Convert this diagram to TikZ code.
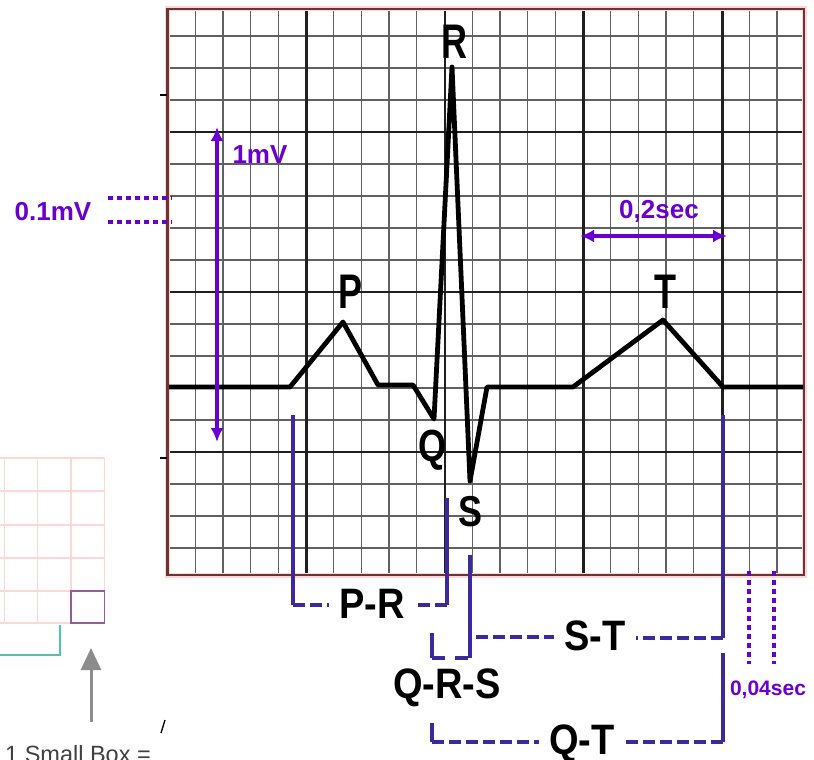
\documentclass[tikz,border=0pt]{standalone}
\usepackage{fontspec}
\setmainfont{Liberation Sans}
\usepackage{graphicx}
\usetikzlibrary{arrows.meta}
\definecolor{purp}{RGB}{106,0,208}
\definecolor{brk}{RGB}{62,40,158}
\definecolor{framec}{RGB}{110,50,50}
\definecolor{pinkg}{RGB}{255,215,215}
\definecolor{tealc}{RGB}{80,196,176}
\definecolor{arrg}{RGB}{140,140,140}
\definecolor{boxc}{RGB}{150,90,160}
\begin{document}
\begin{tikzpicture}[x=1pt,y=-1pt,
 minor/.style={black!62,line width=1.35pt},
 major/.style={black!88,line width=2.6pt},
 trace/.style={black,line width=4.8pt,line join=round},
 peak/.style={inner sep=0pt,font=\fontsize{36}{36}\selectfont\bfseries},
 brline/.style={brk,line width=4pt},
 brdash/.style={brk,line width=4pt,dash pattern=on 12pt off 5pt},
 brlabel/.style={inner xsep=10pt,inner ysep=0pt,anchor=base,font=\fontsize{38}{38}\selectfont\bfseries},
 mv/.style={purp,line width=3.5pt,{Latex[length=14pt,width=13pt]}-{Latex[length=14pt,width=13pt]}},
 ptext/.style={purp,inner sep=0pt,font=\fontsize{26}{26}\selectfont\bfseries},
 dots/.style={purp,line width=4pt,dash pattern=on 5pt off 4pt},
 pinkline/.style={pinkg,line width=1.5pt},
]
\useasboundingbox (0,0) rectangle (814,760);
% ---------- grid ----------
\begin{scope}
\clip (167.5,9) rectangle (804,575);
\foreach \k in {1,...,22} {\draw[minor] ({167.5+27.7*\k},9) -- ({167.5+27.7*\k},575);}
\foreach \k in {0,...,17} {\draw[minor] (167.5,{4+32*\k}) -- (804,{4+32*\k});}
\foreach \xx in {306.2,444.9,583.6,722.3} {\draw[major] (\xx,9) -- (\xx,575);}
\foreach \yy in {132,292,452} {\draw[major] (167.5,\yy) -- (804,\yy);}
\end{scope}
\draw[pinkg,line width=5pt] (167.5,9) rectangle (804,575);
\draw[framec,line width=2.2pt] (167.5,9) rectangle (804,575);
% small ticks
\draw[black,line width=1.2pt] (160,95) -- (167,95);
\draw[black,line width=1.2pt] (160,458) -- (167,458);
\draw[black,line width=1.3pt] (161,733) -- (165,720);
% ---------- ECG trace ----------
\coordinate (e0) at (169,387);
\coordinate (e1) at (290,387);
\coordinate (P) at (343,322);
\coordinate (e2) at (378,385);
\coordinate (e3) at (413,385);
\coordinate (Q) at (434,419);
\coordinate (R) at (452,67);
\coordinate (S) at (470,481);
\coordinate (e4) at (487,387);
\coordinate (e5) at (573,387);
\coordinate (T) at (663,320);
\coordinate (e6) at (723,387);
\coordinate (e7) at (803,387);
\draw[trace] (e0) -- (e1) -- (P) -- (e2) -- (e3) -- (Q) -- (R) -- (S) -- (e4) -- (e5) -- (T) -- (e6) -- (e7);
\node[peak] (lR) at (454,42) {\scalebox{1}[1.35]{R}};
\node[peak] (lP) at (351,292) {\scalebox{1}[1.35]{P}};
\node[peak] (lT) at (665,292) {\scalebox{1}[1.35]{T}};
\node[peak] (lQ) at (432,450) {\scalebox{1}[1.25]{Q}};
\node[peak] (lS) at (471,512) {\scalebox{1}[1.2]{S}};
% ---------- interval brackets ----------
\node[brlabel] (lPR) at (372,618) {\scalebox{1}[1.12]{P-R}};
\node[brlabel] (lQRS) at (447,698) {\scalebox{1}[1.12]{Q-R-S}};
\node[brlabel] (lST) at (595,650) {\scalebox{1}[1.12]{S-T}};
\node[brlabel] (lQT) at (582,754) {\scalebox{1}[1.12]{Q-T}};
\coordinate (pr0) at (293,415);
\coordinate (pr1) at (293,605);
\coordinate (pr2) at (447,605);
\coordinate (pr3) at (447,498);
\draw[brline] (pr0) -- (pr1);
\draw[brdash] (pr1) -- (pr1 -| lPR.west);
\draw[brline] (pr3) -- (pr2);
\draw[brdash] (pr2) -- (pr2 -| lPR.east);
\coordinate (q0) at (432,633);
\coordinate (q1) at (432,658);
\coordinate (s1) at (470,658);
\coordinate (s0) at (470,555);
\draw[brline] (q0) -- (q1);
\draw[brline,dash pattern=on 13pt off 10pt] (q1) -- (s1);
\draw[brline] (s0) -- (s1);
\coordinate (st0) at (476,637);
\coordinate (t0) at (723,415);
\coordinate (t1) at (723,638);
\draw[brdash] (st0) -- (st0 -| lST.west);
\draw[brline] (t0) -- (t1);
\draw[brdash] (t1) -- (t1 -| lST.east);
\coordinate (qt0) at (723,653);
\coordinate (qt1) at (723,742);
\coordinate (qt2) at (432,742);
\coordinate (qt3) at (432,723);
\draw[brline] (qt0) -- (qt1);
\draw[brdash] (qt1) -- (qt1 -| lQT.east);
\draw[brline] (qt3) -- (qt2);
\draw[brdash] (qt2) -- (qt2 -| lQT.west);
% ---------- purple scale marks ----------
\coordinate (mvT) at (217,127);
\coordinate (mvB) at (217,442);
\draw[mv] (mvB) -- (mvT);
\node[ptext] (l1mV) at (260,155) {1mV};
\node[ptext] (l01mV) at (53,212) {0.1mV};
\coordinate (d1a) at (108,198); \coordinate (d1b) at (172,198);
\coordinate (d2a) at (108,222); \coordinate (d2b) at (172,222);
\draw[dots] (d1a) -- (d1b);
\draw[dots] (d2a) -- (d2b);
\node[ptext] (l02) at (659,211) {0,2sec};
\coordinate (sL) at (580,236);
\coordinate (sR) at (727,236);
\draw[mv] (sL) -- (sR);
\node[ptext,font=\fontsize{21}{21}\selectfont\bfseries] (l004) at (768,690) {0,04sec};
\coordinate (v1a) at (749,571); \coordinate (v1b) at (749,664);
\coordinate (v2a) at (774,571); \coordinate (v2b) at (774,664);
\draw[dots] (v1a) -- (v1b);
\draw[dots] (v2a) -- (v2b);
% ---------- left small-box legend ----------
\foreach \xx in {4.5,37.5,71,104.5} {\draw[pinkline] (\xx,458) -- (\xx,623);}
\foreach \yy in {458,491,525,558,591,623} {\draw[pinkline] (0,\yy) -- (104.5,\yy);}
\draw[boxc,line width=1.8pt] (71,591) rectangle (104.5,623);
\coordinate (tc0) at (0,655);
\coordinate (tc1) at (60,655);
\coordinate (tc2) at (60,625);
\draw[tealc,line width=1.6pt] (tc0) -- (tc1) -- (tc2);
\coordinate (ga) at (91,722);
\coordinate (gb) at (91,648);
\draw[arrg,line width=3pt,-{Triangle[length=22pt,width=20pt]}] (ga) -- (gb);
\node[anchor=base west,inner sep=0pt,text=black!75,font=\fontsize{23.5}{24}\selectfont] (lsb) at (5,762) {1 Small Box =};
\end{tikzpicture}
\end{document}
